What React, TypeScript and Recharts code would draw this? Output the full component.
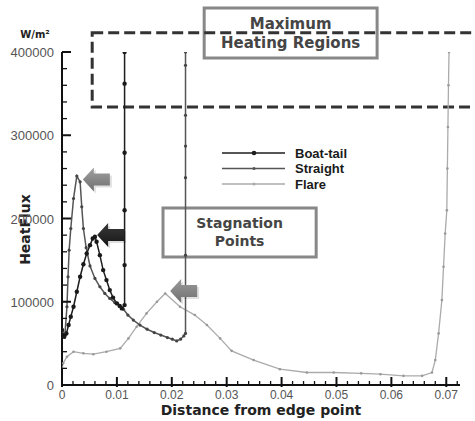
import React from 'react';
import { LineChart, Line, XAxis, YAxis, ReferenceArea, ReferenceDot, Legend } from 'recharts';

// ---- data (distance from edge point, heat flux W/m²) ----
const boatTail: [number, number][] = [
  [0, 66000], [0.0004, 58000], [0.0008, 62000], [0.0012, 72000], [0.0016, 82000],
  [0.0021, 94000], [0.0027, 112000], [0.0033, 130000], [0.0039, 145000], [0.0045, 158000],
  [0.0051, 168000], [0.0056, 176000], [0.006, 178000], [0.0063, 172000], [0.0069, 156000],
  [0.0075, 138000], [0.0081, 126000], [0.0087, 114000], [0.0093, 105000], [0.01, 98000],
  [0.0105, 95000], [0.0109, 92000], [0.0114, 96000], [0.0114, 144000], [0.0114, 210000],
  [0.0114, 279000], [0.0114, 362000], [0.0114, 400000],
];

const straight: [number, number][] = [
  [0, 64000], [0.0005, 58000], [0.0009, 94000], [0.0011, 130000], [0.0013, 162000],
  [0.0016, 188000], [0.0021, 224000], [0.0027, 251000], [0.0033, 244000], [0.0036, 214000],
  [0.0039, 188000], [0.0044, 165000], [0.0051, 143000], [0.006, 128000], [0.0069, 118000],
  [0.0078, 110000], [0.0087, 104000], [0.0096, 99000], [0.0106, 95000], [0.0112, 91000],
  [0.012, 84000], [0.013, 78000], [0.0142, 72000], [0.0155, 67000], [0.0168, 63000],
  [0.018, 60000], [0.0192, 57000], [0.0201, 55000], [0.0209, 53000], [0.0216, 55000],
  [0.0222, 59000], [0.0225, 62000], [0.0225, 156000], [0.0225, 249000], [0.0225, 287000],
  [0.0225, 324000], [0.0225, 384000], [0.0225, 400000],
];

const flare: [number, number][] = [
  [0, 22000], [0.0002, 26000], [0.0009, 34000], [0.0021, 40000], [0.0039, 38000],
  [0.0057, 37000], [0.0081, 40000], [0.0106, 44000], [0.0121, 56000], [0.0136, 70000],
  [0.0154, 86000], [0.0173, 100000], [0.0188, 110000], [0.0215, 94000], [0.0242, 84000],
  [0.0264, 72000], [0.0288, 56000], [0.0309, 41000], [0.0349, 30000], [0.0397, 19000],
  [0.0446, 15000], [0.0495, 15000], [0.0545, 14000], [0.058, 13000], [0.0622, 11000],
  [0.0656, 11000], [0.0674, 15000], [0.068, 30000], [0.0686, 62000], [0.0692, 102000],
  [0.0695, 142000], [0.0698, 182000], [0.0701, 210000], [0.0702, 260000], [0.0703, 310000],
  [0.0704, 360000], [0.0705, 400000],
];

const seriesNames = ['Boat-tail', 'Straight', 'Flare'];
const seriesColors = ['#1e1e1e', '#555555', '#ababab'];

const xMajorTicks = [0, 0.01, 0.02, 0.03, 0.04, 0.05, 0.06, 0.07];
const xTickLabels = ['0', '0.01', '0.02', '0.03', '0.04', '0.05', '0.06', '0.07'];
const yMajorTicks = [0, 100000, 200000, 300000, 400000];
const yTickLabels = ['0', '100000', '200000', '300000', '400000'];
const xAllTicks = Array.from({ length: 37 }, (_, i) => +(i * 0.002).toFixed(3));
const yAllTicks = Array.from({ length: 21 }, (_, i) => i * 20000);

const toPoints = (arr: [number, number][]) => arr.map(([x, y]) => ({ x, y }));

const FONT = '"Liberation Sans", Arial, sans-serif';
const BOLD_FONT = '"DejaVu Sans", Verdana, sans-serif';

const XTick = (props: any) => {
  const { x, y, payload } = props;
  const v = payload.value;
  const idx = xMajorTicks.findIndex((m) => Math.abs(m - v) < 1e-7);
  const major = idx >= 0;
  return (
    <g>
      <line x1={x} y1={y + (major ? 2 : 0)} x2={x} y2={y - (major ? 8 : 4)} stroke="#111" strokeWidth={major ? 2 : 1.3} />
      {major && (
        <text x={x} y={y + 14} textAnchor="middle" fontSize={12} fill="#555" fontFamily={FONT}>
          {xTickLabels[idx]}
        </text>
      )}
    </g>
  );
};

const YTick = (props: any) => {
  const { x, y, payload } = props;
  const v = payload.value;
  const idx = yMajorTicks.indexOf(v);
  const major = idx >= 0;
  return (
    <g>
      <line x1={x} y1={y} x2={x + (major ? 9 : 5)} y2={y} stroke="#111" strokeWidth={major ? 2 : 1.3} />
      {major && (
        <text x={x - 8} y={y + 5} textAnchor="end" fontSize={13} fill="#555" fontFamily={FONT}>
          {yTickLabels[idx]}
        </text>
      )}
    </g>
  );
};

const makeArrow = (kind: 'gray' | 'black' | 'light') => (props: any) => {
  const { cx, cy } = props;
  if (cx == null || cy == null) return <g />;
  const id = 'arrowGrad-' + kind;
  const stops =
    kind === 'black'
      ? ['#3a3a3a', '#151515']
      : kind === 'gray'
      ? ['#a0a0a0', '#6e6e6e']
      : ['#9a9a9a', '#707070'];
  const shape = [[0, 0], [11, -12], [11, -6], [27, -6], [27, 6], [11, 6], [11, 12]];
  const pts = shape.map(([dx, dy]) => `${cx + dx},${cy + dy}`).join(' ');
  const shadow = shape.map(([dx, dy]) => `${cx + dx + 2},${cy + dy + 2}`).join(' ');
  return (
    <g>
      <defs>
        <linearGradient id={id} x1="0" y1="0" x2="0" y2="1">
          <stop offset="0%" stopColor={stops[0]} />
          <stop offset="100%" stopColor={stops[1]} />
        </linearGradient>
      </defs>
      <polygon points={shadow} fill="#000" opacity={0.12} />
      <polygon points={pts} fill={`url(#${id})`} />
    </g>
  );
};

const renderLegend = () => (
  <svg width={160} height={50}>
    {seriesNames.map((name, i) => {
      const y = 8 + i * 15.5;
      return (
        <g key={name}>
          <line x1={2} y1={y} x2={65} y2={y} stroke={seriesColors[i]} strokeWidth={1.5} />
          <circle cx={34} cy={y} r={i === 0 ? 2.3 : 1.6} fill={seriesColors[i]} />
          <text x={75} y={y + 4.5} fontSize={13} fontWeight="bold" fill="#1a1a1a" fontFamily={FONT}>
            {name}
          </text>
        </g>
      );
    })}
  </svg>
);

const BoxLabel = (lines: string[], size: number, gap: number) => (props: any) => {
  const vb = props.viewBox || {};
  const cx = vb.x + vb.width / 2;
  const top = vb.y;
  return (
    <g>
      {lines.map((t, i) => (
        <text
          key={t}
          x={cx}
          y={top + size + 6 + i * gap}
          textAnchor="middle"
          fontSize={size}
          fontWeight="bold"
          fill="#454545"
          fontFamily={BOLD_FONT}
        >
          {t}
        </text>
      ))}
    </g>
  );
};

const YLabel = (props: any) => {
  const vb = props.viewBox || {};
  const cy = vb.y + vb.height / 2 + 11;
  return (
    <g>
      <text x={35} y={38} textAnchor="middle" fontSize={10} fontWeight="bold" fill="#222" fontFamily={BOLD_FONT}>
        W/m²
      </text>
      <text
        x={30}
        y={cy}
        transform={`rotate(-90, 30, ${cy})`}
        textAnchor="middle"
        fontSize={14}
        fontWeight="bold"
        fill="#222"
        fontFamily={BOLD_FONT}
      >
        HeatFlux
      </text>
    </g>
  );
};

const XLabel = (props: any) => {
  const vb = props.viewBox || {};
  return (
    <text
      x={vb.x + vb.width / 2}
      y={vb.y + 30}
      textAnchor="middle"
      fontSize={14}
      fontWeight="bold"
      fill="#222"
      fontFamily={BOLD_FONT}
    >
      Distance from edge point
    </text>
  );
};

export default function App() {
  const data = [toPoints(boatTail), toPoints(straight), toPoints(flare)];
  return (
    <div style={{ position: 'absolute', left: 0, top: 0, width: 475, height: 421, background: '#fff' }}>
      <LineChart width={475} height={421} margin={{ top: 52, right: 15, bottom: 0, left: 0 }}>
        <XAxis
          type="number"
          dataKey="x"
          domain={[0, 0.0725]}
          ticks={xAllTicks}
          interval={0}
          tickSize={0}
          tickMargin={0}
          tickLine={false}
          tick={XTick}
          axisLine={{ stroke: '#111', strokeWidth: 2 }}
          height={36}
          allowDataOverflow
          label={XLabel}
        />
        <YAxis
          type="number"
          dataKey="y"
          domain={[0, 400000]}
          ticks={yAllTicks}
          interval={0}
          tickSize={0}
          tickMargin={0}
          tickLine={false}
          tick={YTick}
          axisLine={{ stroke: '#111', strokeWidth: 2 }}
          width={62}
          allowDataOverflow
          label={YLabel}
        />
        <ReferenceArea
          x1={0.0259}
          x2={0.0574}
          y1={392800}
          y2={452800}
          fill="none"
          stroke="#888"
          strokeWidth={3}
          ifOverflow="visible"
          label={BoxLabel(['Maximum', 'Heating Regions'], 15, 19)}
        />
        <ReferenceArea
          x1={0.0184}
          x2={0.0463}
          y1={153700}
          y2={212600}
          fill="none"
          stroke="#888"
          strokeWidth={3}
          ifOverflow="visible"
          label={BoxLabel(['Stagnation', 'Points'], 14, 18)}
        />
        <ReferenceArea
          x1={0.0055}
          x2={0.09}
          y1={334000}
          y2={423000}
          fill="none"
          stroke="#333"
          strokeWidth={3}
          strokeDasharray="11 5"
          ifOverflow="visible"
        />
        <Line
          data={data[2]}
          dataKey="y"
          name={seriesNames[2]}
          type="linear"
          stroke={seriesColors[2]}
          strokeWidth={1.3}
          dot={{ r: 1.3, fill: '#999', stroke: 'none' }}
          isAnimationActive={false}
        />
        <Line
          data={data[1]}
          dataKey="y"
          name={seriesNames[1]}
          type="linear"
          stroke={seriesColors[1]}
          strokeWidth={1.5}
          dot={{ r: 1.6, fill: '#444', stroke: 'none' }}
          isAnimationActive={false}
        />
        <Line
          data={data[0]}
          dataKey="y"
          name={seriesNames[0]}
          type="linear"
          stroke={seriesColors[0]}
          strokeWidth={1.5}
          dot={{ r: 2.2, fill: '#1a1a1a', stroke: 'none' }}
          isAnimationActive={false}
        />
        <ReferenceDot x={0.0038} y={246800} ifOverflow="visible" shape={makeArrow('gray')} />
        <ReferenceDot x={0.0064} y={180200} ifOverflow="visible" shape={makeArrow('black')} />
        <ReferenceDot x={0.0197} y={112900} ifOverflow="visible" shape={makeArrow('light')} />
        <Legend
          verticalAlign="middle"
          align="center"
          layout="horizontal"
          content={renderLegend}
          wrapperStyle={{ position: 'absolute', left: 220, top: 145, width: 160, height: 50 }}
        />
      </LineChart>
    </div>
  );
}
